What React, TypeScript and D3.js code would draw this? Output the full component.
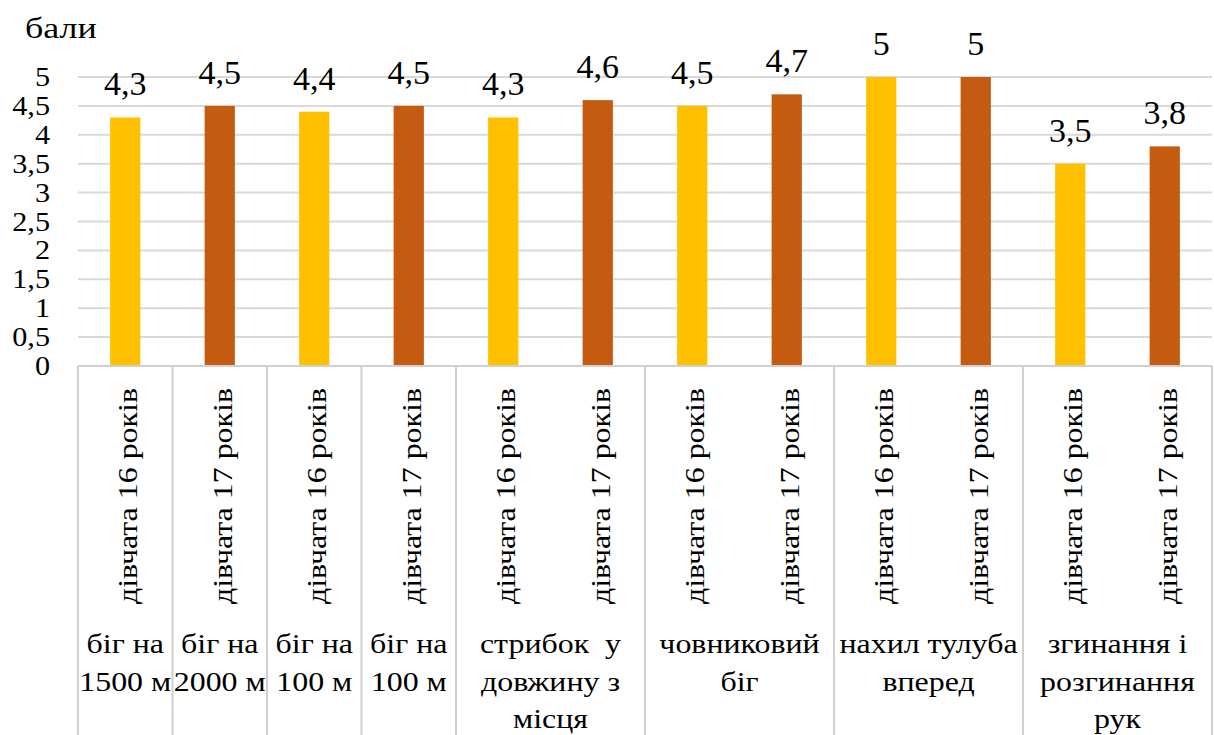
import React from "react";
import * as d3 from "d3";

// Categories along the x axis: age group of each bar
const ageLabels = [
  "дівчата 16 років", "дівчата 17 років",
  "дівчата 16 років", "дівчата 17 років",
  "дівчата 16 років", "дівчата 17 років",
  "дівчата 16 років", "дівчата 17 років",
  "дівчата 16 років", "дівчата 17 років",
  "дівчата 16 років", "дівчата 17 років",
];
// Exercise groups (outer category level): label lines and how many bars each spans
const exerciseNames = [
  ["біг на", "1500 м"],
  ["біг на", "2000 м"],
  ["біг на", "100 м"],
  ["біг на", "100 м"],
  ["стрибок  у", "довжину з", "місця"],
  ["човниковий", "біг"],
  ["нахил тулуба", "вперед"],
  ["згинання і", "розгинання", "рук"],
];
const exerciseSpans = [1, 1, 1, 1, 2, 2, 2, 2];
// Scores in points
const values = [4.3, 4.5, 4.4, 4.5, 4.3, 4.6, 4.5, 4.7, 5, 5, 3.5, 3.8];
const yTicks = [0, 0.5, 1, 1.5, 2, 2.5, 3, 3.5, 4, 4.5, 5];
const yTitle = "бали";

const W = 1214;
const H = 735;
const left = 78;
const right = 1212;
const top = 77;
const bottom = 366;

const COLOR16 = "#FFC000";
const COLOR17 = "#C55A11";
const GRID = "#d9d9d9";
const FRAME = "#d0d0d0";
const FONT = "Liberation Serif";

const fmt = (v: number) => String(v).replace(".", ",");

// Text placed at (x, y) with an optional rotation and horizontal glyph widening
function Label(props: {
  x: number; y: number; size: number; sx?: number; rotate?: number;
  anchor?: "start" | "middle" | "end"; dy?: string; children: React.ReactNode;
}) {
  const { x, y, size, sx = 1, rotate = 0, anchor = "start", dy, children } = props;
  return (
    <text
      transform={`translate(${x},${y}) rotate(${rotate}) scale(${sx},1)`}
      textAnchor={anchor}
      dy={dy}
      fill="#000"
      style={{ fontFamily: FONT, fontSize: size, whiteSpace: "pre" }}
    >
      {children}
    </text>
  );
}

export default function App() {
  const idx = ageLabels.map((_, i) => i);
  const x = d3.scaleBand<number>().domain(idx).range([left, right]).paddingInner(0).paddingOuter(0);
  const y = d3.scaleLinear().domain([0, 5]).range([bottom, top]);
  const bw = x.bandwidth();
  const barW = bw * 0.32;

  // group boundaries, as indices into the categories
  const bounds: number[] = [0];
  exerciseSpans.forEach((s) => bounds.push(bounds[bounds.length - 1] + s));
  const edge = (b: number) => (b >= idx.length ? right : (x(b) as number));

  return (
    <svg width={W} height={H} style={{ position: "absolute", left: 0, top: 0, background: "#fff" }}>
      <Label x={25} y={38} size={30} sx={1.2}>{yTitle}</Label>

      {/* horizontal gridlines */}
      {yTicks.filter((t) => t > 0).map((t) => (
        <line key={t} x1={left} x2={right} y1={y(t)} y2={y(t)} stroke={GRID} strokeWidth={2} />
      ))}

      {/* y tick labels */}
      {yTicks.map((t) => (
        <Label key={t} x={50} y={y(t) + 9} size={27} sx={1.12} anchor="end">
          {fmt(t)}
        </Label>
      ))}

      {/* bars */}
      {values.map((v, i) => (
        <rect
          key={i}
          x={(x(i) as number) + (bw - barW) / 2}
          y={y(v)}
          width={barW}
          height={y(0) - y(v)}
          fill={i % 2 === 0 ? COLOR16 : COLOR17}
        />
      ))}

      {/* value labels */}
      {values.map((v, i) => (
        <Label key={i} x={(x(i) as number) + bw / 2} y={y(v) - 22} size={34} anchor="middle">
          {fmt(v)}
        </Label>
      ))}

      {/* category axis frame */}
      <line x1={left} x2={right} y1={bottom} y2={bottom} stroke={FRAME} strokeWidth={2} />
      {bounds.map((b, k) => (
        <line key={k} x1={edge(b)} x2={edge(b)} y1={bottom} y2={H} stroke={FRAME} strokeWidth={2} />
      ))}

      {/* rotated age labels */}
      {ageLabels.map((lab, i) => (
        <Label
          key={i}
          x={(x(i) as number) + bw / 2 + 12}
          y={388}
          size={28}
          sx={1.14}
          rotate={-90}
          anchor="end"
        >
          {lab}
        </Label>
      ))}

      {/* exercise group labels */}
      {exerciseNames.map((lines, k) => {
        const cx = (edge(bounds[k]) + edge(bounds[k + 1])) / 2;
        return (
          <g key={k}>
            {lines.map((ln, j) => (
              <Label key={j} x={cx} y={653 + j * 37.5} size={28} sx={1.14} anchor="middle">
                {ln}
              </Label>
            ))}
          </g>
        );
      })}
    </svg>
  );
}
